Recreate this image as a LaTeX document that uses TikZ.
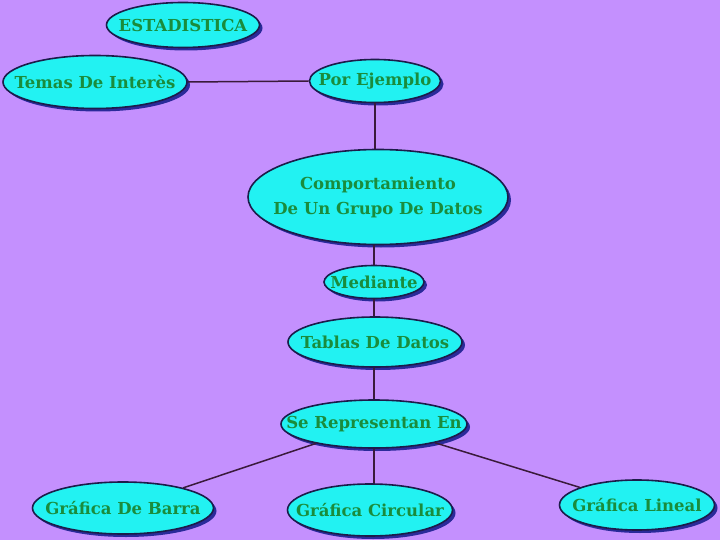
\documentclass[tikz,border=0pt]{standalone}
\usepackage{fontspec}
\setmainfont{DejaVu Serif}
\usetikzlibrary{shapes.geometric,shadows}
\definecolor{bg}{HTML}{C490FE}
\definecolor{cyanfill}{HTML}{22F2F2}
\definecolor{edge}{HTML}{1C1C4A}
\definecolor{shadowc}{HTML}{2A2A9A}
\definecolor{txt}{HTML}{1A8C3C}
\definecolor{conn}{HTML}{3A1A3A}
\tikzset{
  bubble/.style={ellipse, draw=edge, line width=1.6pt, fill=cyanfill, inner sep=0pt,
    drop shadow={shadow xshift=3pt, shadow yshift=-3pt, fill=shadowc, opacity=1}},
  lab/.style={text=txt, font=\bfseries\fontsize{16.5}{20}\selectfont, align=center, inner sep=0pt},
  conn/.style={draw=conn, line width=1.5pt}
}
\begin{document}
\begin{tikzpicture}[x=1pt,y=-1pt]
\fill[bg] (0,0) rectangle (720,540);
\useasboundingbox (0,0) rectangle (720,540);
\node[bubble, minimum width=153pt, minimum height=45pt, label={[lab]center:ESTADISTICA}] (est) at (183,25) {};
\node[bubble, minimum width=184pt, minimum height=53pt, label={[lab]center:Temas De Interès}] (temas) at (95,82) {};
\node[bubble, minimum width=131pt, minimum height=43pt, label={[lab]center:Por Ejemplo}] (por) at (375,81) {};
\node[bubble, minimum width=260pt, minimum height=95pt, label={[lab]center:{Comportamiento\\[5pt]De Un Grupo De Datos}}] (comp) at (378,197) {};
\node[bubble, minimum width=100pt, minimum height=33pt, label={[lab]center:Mediante}] (med) at (374,282) {};
\node[bubble, minimum width=174pt, minimum height=50pt, label={[lab]center:Tablas De Datos}] (tab) at (375,342) {};
\node[bubble, minimum width=186pt, minimum height=48pt, label={[lab]center:Se Representan En}] (se) at (374,424) {};
\node[bubble, minimum width=181pt, minimum height=52pt, label={[lab]center:Gráfica De Barra}] (barra) at (123,508) {};
\node[bubble, minimum width=165pt, minimum height=52pt, label={[lab]center:Gráfica Circular}] (circ) at (370,510) {};
\node[bubble, minimum width=155pt, minimum height=50pt, label={[lab]center:Gráfica Lineal}] (lin) at (637,505) {};
\draw[conn] (temas.east) -- (por.west);
\draw[conn] (por.south) -- (por.south |- comp.north);
\draw[conn] (med.north |- comp.south) -- (med.north);
\draw[conn] (med.south) -- (med.south |- tab.north);
\draw[conn] (se.north |- tab.south) -- (se.north);
\draw[conn] (se) -- (barra);
\draw[conn] (se.south) -- (se.south |- circ.north);
\draw[conn] (se) -- (lin);
\end{tikzpicture}
\end{document}
